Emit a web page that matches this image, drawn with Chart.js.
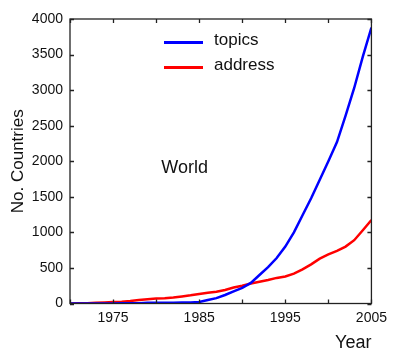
<!DOCTYPE html>
<html>
<head>
<meta charset="utf-8">
<script src="https://cdn.jsdelivr.net/npm/chart.js@4/dist/chart.umd.min.js"></script>
<style>
  html, body { margin: 0; padding: 0; background: #fff; }
  #wrap { width: 393px; height: 349px; }
</style>
</head>
<body>
<div id="wrap"><canvas id="c"></canvas></div>
<script>
// Years covered by the series
const years = [1970,1971,1972,1973,1974,1975,1976,1977,1978,1979,
               1980,1981,1982,1983,1984,1985,1986,1987,1988,1989,
               1990,1991,1992,1993,1994,1995,1996,1997,1998,1999,
               2000,2001,2002,2003,2004,2005];

// Number of countries, by year
const topics  = [0,0,0,0,0,0,5,5,5,10,
                 10,10,10,15,15,20,50,75,120,170,
                 220,290,400,510,640,800,1000,1240,1480,1740,
                 2000,2270,2640,3030,3470,3880];
const address = [0,2,5,10,15,20,25,35,50,60,
                 70,75,85,100,115,135,150,165,190,225,
                 250,280,305,330,360,380,420,480,550,630,
                 690,740,800,890,1030,1175];

// Axis ticks
const xLabelYears = [1975, 1985, 1995, 2005];
const yTicks = [0,500,1000,1500,2000,2500,3000,3500,4000];

const FONT = "'Liberation Sans', Arial, sans-serif";

const toPoints = vals => years.map((yr, i) => ({ x: yr, y: vals[i] }));

// Box frame, inward tick marks, in-plot legend and region label
const framePlugin = {
  id: 'framePlugin',
  afterDatasetsDraw(chart) {
    const { ctx, chartArea: a, scales: { x, y } } = chart;
    ctx.save();
    ctx.strokeStyle = '#222';
    ctx.lineWidth = 1.3;
    ctx.strokeRect(a.left, a.top, a.right - a.left, a.bottom - a.top);
    ctx.beginPath();
    x.ticks.forEach(t => {
      const px = Math.round(x.getPixelForValue(t.value)) + 0.5;
      ctx.moveTo(px, a.bottom); ctx.lineTo(px, a.bottom - 4);
      ctx.moveTo(px, a.top);    ctx.lineTo(px, a.top + 4);
    });
    y.ticks.forEach(t => {
      const py = Math.round(y.getPixelForValue(t.value)) + 0.5;
      ctx.moveTo(a.left, py);  ctx.lineTo(a.left + 4, py);
      ctx.moveTo(a.right, py); ctx.lineTo(a.right - 4, py);
    });
    ctx.stroke();

    // legend
    ctx.font = '17px ' + FONT;
    ctx.textBaseline = 'middle';
    ctx.textAlign = 'left';
    chart.data.datasets.forEach((ds, i) => {
      const ly = a.top + 23.5 + i * 25;
      ctx.strokeStyle = ds.borderColor;
      ctx.lineWidth = 3;
      ctx.beginPath();
      ctx.moveTo(a.left + 94, ly);
      ctx.lineTo(a.left + 133, ly);
      ctx.stroke();
      ctx.fillStyle = '#111';
      ctx.fillText(ds.label, a.left + 144, ly - 2);
    });

    // region label
    ctx.font = '18px ' + FONT;
    ctx.fillStyle = '#111';
    ctx.fillText('World', x.getPixelForValue(1980.6), y.getPixelForValue(1900));
    ctx.restore();
  }
};

new Chart(document.getElementById('c'), {
  type: 'line',
  data: {
    datasets: [
      { label: 'topics',  data: toPoints(topics),  borderColor: '#0000ff', borderWidth: 2.5, pointRadius: 0, tension: 0 },
      { label: 'address', data: toPoints(address), borderColor: '#ff0000', borderWidth: 2.5, pointRadius: 0, tension: 0 }
    ]
  },
  options: {
    responsive: true,
    maintainAspectRatio: false,
    animation: false,
    events: [],
    layout: { padding: { top: 19, right: 15, left: 0, bottom: 0 } },
    plugins: { legend: { display: false }, tooltip: { enabled: false } },
    scales: {
      x: {
        type: 'linear',
        min: 1970, max: 2005,
        grid: { display: false, drawTicks: false },
        border: { display: false },
        ticks: {
          stepSize: 5,
          autoSkip: false,
          maxRotation: 0,
          padding: 6,
          color: '#111',
          font: { family: FONT, size: 14 },
          callback: v => xLabelYears.includes(v) ? String(v) : ''
        },
        title: {
          display: true, text: 'Year', align: 'end',
          color: '#111', font: { family: FONT, size: 18, lineHeight: 1 },
          padding: { top: 0, bottom: -3 }
        },
        afterFit: s => { s.height = 45.5; }
      },
      y: {
        min: 0, max: 4000,
        grid: { display: false, drawTicks: false },
        border: { display: false },
        afterBuildTicks: s => { s.ticks = yTicks.map(v => ({ value: v })); },
        ticks: {
          padding: 7,
          color: '#111',
          font: { family: FONT, size: 14 },
          callback: v => String(v)
        },
        title: {
          display: true, text: 'No. Countries',
          color: '#111', font: { family: FONT, size: 17, lineHeight: 1.2 },
          padding: { top: 8, bottom: 0 }
        },
        afterFit: s => { s.width = 70; }
      }
    }
  },
  plugins: [framePlugin]
});
</script>
</body>
</html>
